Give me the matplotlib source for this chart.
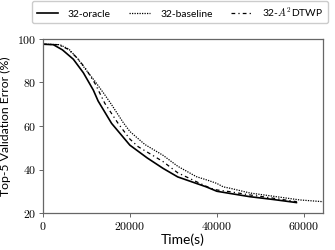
import matplotlib
matplotlib.use("Agg")
import matplotlib.pyplot as plt
from matplotlib.ticker import FuncFormatter

plt.rcParams['mathtext.fontset'] = 'cm'
plt.rcParams['font.family'] = ['Lato', 'DejaVu Sans']

# curves
oracle_t = [0, 2400, 4500, 7000, 9300, 11600, 12700, 15800, 20000, 24000,
            27650, 31000, 35300, 37600, 40000, 43000, 47600, 53000, 58300]
oracle_err = [97.6, 97.4, 95.0, 90.7, 84.5, 76.5, 71.5, 61.2, 51.2, 45.3,
              40.5, 36.6, 33.6, 32.0, 30.0, 29.0, 27.5, 26.2, 24.8]

baseline_t = [0, 3900, 6000, 8000, 9650, 12000, 14000, 15600, 18500, 20000,
              23450, 27650, 31000, 35300, 38000, 40000, 41500, 43000, 47600,
              53000, 59100, 64400]
baseline_err = [97.6, 97.4, 95.3, 91.0, 86.5, 80.5, 75.0, 70.4, 61.5, 57.5,
                51.5, 46.5, 41.5, 36.7, 35.0, 33.6, 32.0, 31.4, 29.2,
                27.7, 26.0, 25.2]

a2_t = [0, 3500, 5800, 8000, 9800, 12000, 14250, 17300, 20000, 21900,
        25000, 27650, 31000, 35300, 38400, 40000, 43000, 47600, 53000, 58400]
a2_err = [97.6, 97.4, 95.3, 91.0, 86.5, 79.5, 70.4, 61.2, 54.0, 50.5,
          46.8, 43.6, 38.5, 34.4, 31.5, 30.6, 29.8, 28.3, 26.8, 25.2]

xticks = [0, 20000, 40000, 60000]
yticks = [20, 40, 60, 80, 100]

fig = plt.figure(figsize=(3.35, 2.5), dpi=100)
ax = fig.add_axes([0.128, 0.148, 0.836, 0.696])

ax.plot(oracle_t, oracle_err, color='black', lw=1.2, label='32-oracle')
ax.plot(baseline_t, baseline_err, color='black', lw=0.9, ls=(0, (1, 1)),
        label='32-baseline')
ax.plot(a2_t, a2_err, color='black', lw=0.9, ls=(0, (3, 2.5, 1, 2.5)),
        label='32-$A^2$DTWP')

ax.set_xlim(0, 64400)
ax.set_ylim(20, 100)
ax.set_xticks(xticks)
ax.set_yticks(yticks)
fmt = FuncFormatter(lambda v, p: '$%d$' % v)
ax.xaxis.set_major_formatter(fmt)
ax.yaxis.set_major_formatter(fmt)
ax.tick_params(labelsize=8.5, length=3, width=0.6, pad=2, color='0.3')
for s in ax.spines.values():
    s.set_color('0.4')
    s.set_linewidth(0.9)

ax.set_xlabel('Time(s)', fontsize=10, labelpad=1)
ax.set_ylabel('Top-5 Validation Error (%)', fontsize=8.8, labelpad=4)

leg = ax.legend(loc='lower center', bbox_to_anchor=(0.49, 1.06), ncol=3,
                fontsize=7.4, frameon=True, fancybox=True, edgecolor='0.8',
                handlelength=2.0, columnspacing=1.8, handletextpad=1.0,
                borderpad=0.45, framealpha=1)

fig.savefig('out.png', dpi=100)
